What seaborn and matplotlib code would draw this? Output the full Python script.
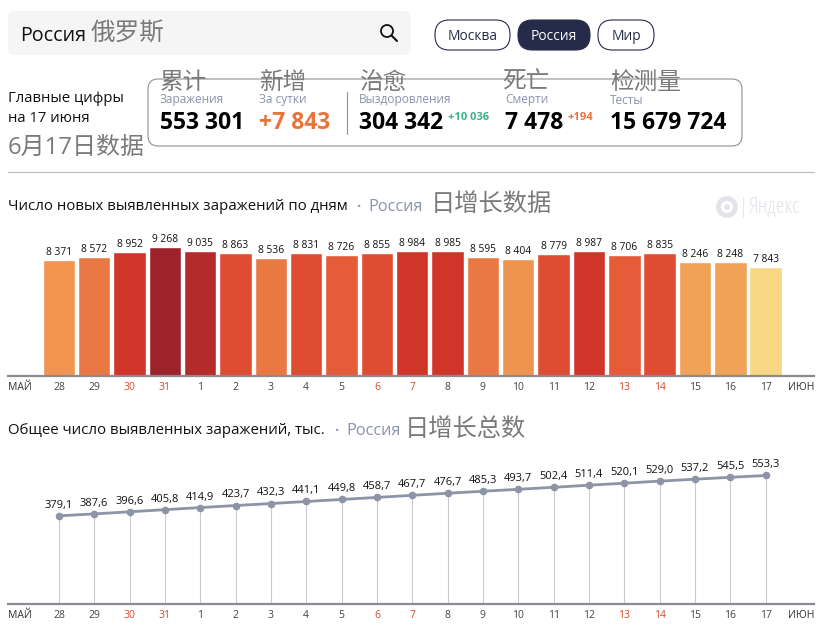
import matplotlib
matplotlib.use("Agg")
import matplotlib.pyplot as plt
from matplotlib.patches import Circle, FancyBboxPatch
import pandas as pd
import seaborn as sns

W, H = 828, 636

days = ["28", "29", "30", "31", "1", "2", "3", "4", "5", "6", "7", "8", "9", "10",
        "11", "12", "13", "14", "15", "16", "17"]
red_days = ["30", "31", "6", "7", "13", "14"]
new_cases = [8371, 8572, 8952, 9268, 9035, 8863, 8536, 8831, 8726, 8855, 8984, 8985,
             8595, 8404, 8779, 8987, 8706, 8835, 8246, 8248, 7843]
bar_colors = ["#f09450", "#ea7843", "#cf3529", "#9e222b", "#b52a2b", "#df4c32", "#ea7843",
              "#df4c32", "#e55c38", "#df4c32", "#cf3529", "#cf3529", "#ea7843", "#ef944f",
              "#df4c32", "#cf3529", "#e55c38", "#df4c32", "#f0a356", "#f0a356", "#f7d783"]
total_cases = [379.1, 387.6, 396.6, 405.8, 414.9, 423.7, 432.3, 441.1, 449.8, 458.7, 467.7,
               476.7, 485.3, 493.7, 502.4, 511.4, 520.1, 529.0, 537.2, 545.5, 553.3]

GREY = "#7a7a7a"
BLUE_GREY = "#8b92ab"
ORANGE = "#e8743b"
RED_DAY = "#d9472f"
AXIS = "#8a8a92"

sns.set_theme(style="white")
plt.rcParams["font.family"] = ["Open Sans", "Noto Sans CJK SC", "DejaVu Sans"]

fig = plt.figure(figsize=(W / 100, H / 100), dpi=100)


def px_axes(left, right, top, bottom):
    return fig.add_axes([left / W, 1 - bottom / H, (right - left) / W, (bottom - top) / H])


def style_days(ax, ymax):
    ax.set_xlim(-1.44, 21.37)
    ax.set_ylim(0, ymax)
    sns.despine(ax=ax, left=True, right=True, top=True)
    ax.spines["bottom"].set_color(AXIS)
    ax.spines["bottom"].set_linewidth(1.6)
    ax.set_yticks([])
    ax.set_xlabel("")
    ax.set_ylabel("")
    ax.set_xticks(range(len(days)))
    ax.set_xticklabels(days, fontsize=7.5)
    ax.tick_params(axis="x", length=0, pad=4.5)
    for lab, d in zip(ax.get_xticklabels(), days):
        lab.set_color(RED_DAY if d in red_days else "#444444")


# bars
ax1 = px_axes(8, 814, 226, 376)
df_new = pd.DataFrame({"day": days, "cases": new_cases})
sns.barplot(data=df_new, x="day", y="cases", hue="day", palette=bar_colors, legend=False,
            width=0.92, saturation=1, ax=ax1)
style_days(ax1, 10807)
for i, v in enumerate(new_cases):
    ax1.annotate(f"{v:,}".replace(",", " "), (i, v), xytext=(0, 5.4), textcoords="offset points",
                 ha="center", va="center", fontsize=7.4, color="#111111")

# line
ax2 = px_axes(8, 814, 440, 603.7)
df_total = pd.DataFrame({"pos": range(len(days)), "total": total_cases})
ax2.vlines(df_total["pos"], 0, df_total["total"], color="#c8cad2", linewidth=0.8)
sns.lineplot(data=df_total, x="pos", y="total", color="#8e94a8", linewidth=2, marker="o",
             markersize=5.5, markeredgewidth=0, ax=ax2)
style_days(ax2, 706.5)
for i, v in enumerate(total_cases):
    ax2.annotate(f"{v:.1f}".replace(".", ","), (i, v), xytext=(0, 7.6), textcoords="offset points",
                 ha="center", va="center", fontsize=8, color="#111111")

# page furniture, in pixel coordinates
page = fig.add_axes([0, 0, 1, 1], zorder=5)
page.set_xlim(0, W)
page.set_ylim(H, 0)
page.axis("off")
page.patch.set_alpha(0)


def label(x, y, s, size, color="#111111", **kw):
    # va=center sits a bit high with these fonts
    kw.setdefault("va", "center")
    page.text(x, y + 4, s, fontsize=size, color=color, **kw)


def rounded(x0, y0, x1, y1, r, **kw):
    page.add_patch(FancyBboxPatch((x0 + r, y0 + r), x1 - x0 - 2 * r, y1 - y0 - 2 * r,
                                  boxstyle=f"round,pad={r},rounding_size={r}", **kw))


# search bar
rounded(8, 11, 411, 55, 7, facecolor="#f5f5f5", edgecolor="none")
label(20, 32, "Россия", 14.2)
label(91, 29, "俄罗斯", 17.7, GREY)
page.add_patch(Circle((387, 31), 6, facecolor="none", edgecolor="#111111", linewidth=1.3))
page.plot([391.5, 397], [35.5, 41], color="#111111", linewidth=1.5)

# pills
rounded(435, 20, 510, 50, 14.5, facecolor="white", edgecolor="#262b4a", linewidth=0.8)
rounded(518, 20, 590, 50, 14.5, facecolor="#262b4a", edgecolor="#262b4a", linewidth=0.8)
rounded(598, 20, 654, 50, 14.5, facecolor="white", edgecolor="#262b4a", linewidth=0.8)
label(472.5, 33, "Москва", 9.9, "#262b4a", ha="center")
label(554, 33, "Россия", 9.9, "white", ha="center")
label(626, 33, "Мир", 9.9, "#262b4a", ha="center")

# summary card
label(8, 95, "Главные цифры", 10.7)
label(8, 115, "на 17 июня", 10.7)
label(8, 144, "6月17日数据", 17.3, GREY)
rounded(148, 79, 742, 146, 10, facecolor="none", edgecolor="#8f8f98", linewidth=0.8)
page.plot([347, 347], [92, 134], color="#8f8f98", linewidth=0.8)

for x, s in [(160, "累计"), (259, "新增"), (359, "治愈"), (502, "死亡"), (610, "检测量")]:
    label(x, 79, s, 17, GREY)
for x, s in [(160, "Заражения"), (259, "За сутки"), (359, "Выздоровления"), (505, "Смерти"), (610, "Тесты")]:
    label(x, 96, s, 8.6, BLUE_GREY)
for x, s, c in [(160, "553 301", "#000000"), (259, "+7 843", ORANGE), (359, "304 342", "#000000"),
                (505, "7 478", "#000000"), (610, "15 679 724", "#000000")]:
    label(x, 119, s, 16.5, c, fontweight="bold")
label(448, 114, "+10 036", 8, "#3cb28c", fontweight="bold")
label(568, 114, "+194", 8, ORANGE, fontweight="bold")

page.plot([8, 814], [172, 172], color="#bdbdbd", linewidth=0.9)

# chart titles
label(8, 203, "Число новых выявленных заражений по дням", 10.85)
label(356, 203, "·", 10.6, BLUE_GREY, fontweight="bold")
label(368, 203, "Россия", 11.7, BLUE_GREY)
label(431, 201, "日增长数据", 17.5, GREY)
label(8, 427, "Общее число выявленных заражений, тыс.", 10.85)
label(334, 427, "·", 10.6, BLUE_GREY, fontweight="bold")
label(346, 427, "Россия", 11.7, BLUE_GREY)
label(405, 426, "日增长总数", 17.5, GREY)

# watermark
page.add_patch(Circle((727, 207), 8.5, facecolor="none", edgecolor="#e2e4ea", linewidth=3.5))
page.add_patch(Circle((727, 207), 3, facecolor="#e2e4ea", edgecolor="none"))
page.plot([743, 743], [197, 217], color="#e6e7ec", linewidth=0.8)
label(749, 203, "Яндекс", 16, "#e2e4ea", fontstretch="condensed")

# month labels
for y in (384, 611.5):
    label(8, y, "МАЙ", 7.5, "#333333")
    label(814, y, "ИЮН", 7.5, "#333333", ha="right")

fig.savefig("out.png", dpi=100)
